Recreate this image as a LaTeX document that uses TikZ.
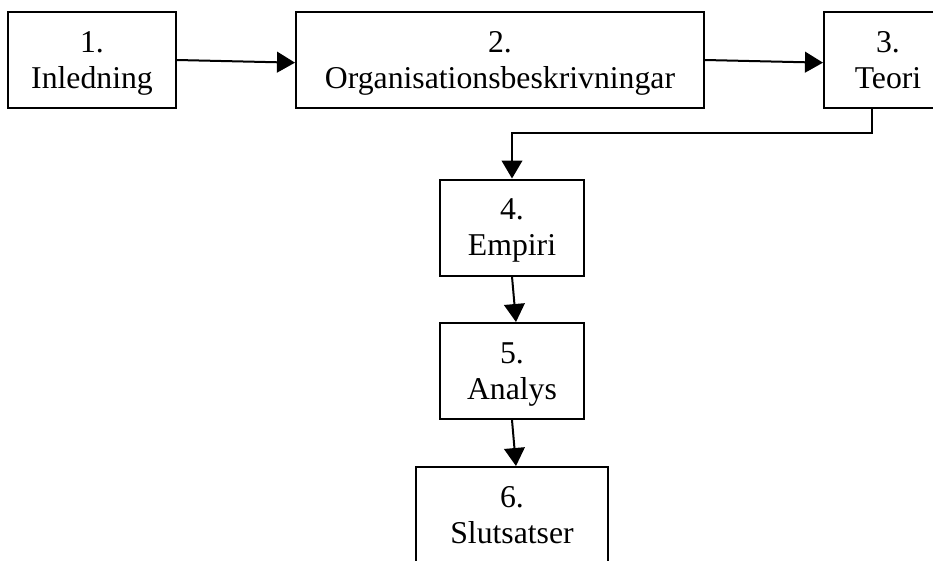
\documentclass[tikz,border=0pt]{standalone}
\usepackage{fontspec}
\setmainfont{Liberation Serif}
\usetikzlibrary{arrows.meta,positioning}
\newcommand{\ls}{\rule[-6pt]{0pt}{27pt}}
\tikzset{
  stage/.style={draw,line width=1.5pt,align=center,inner sep=0pt,
    minimum height=72pt,font=\fontsize{23.8}{27}\selectfont},
  flow/.style={-{Triangle[length=13.5pt,width=15.5pt]},line width=1.5pt}
}

\begin{document}
\begin{tikzpicture}[x=0.75pt,y=-0.75pt]
    \clip (0,0) rectangle (933,561);
    \node[stage,minimum width=126pt] (inl) at (92,60) {\ls 1.\\\ls Inledning};
    \node[stage,minimum width=306pt] (org) at (500,60) {\ls 2.\\\ls Organisationsbeskrivningar};
    \node[stage,minimum width=96pt] (teo) at (888,60) {\ls 3.\\\ls Teori};
    \node[stage,minimum width=108pt] (emp) at (512,227.5) {\ls 4.\\\ls Empiri};
    \node[stage,minimum width=108pt] (ana) at (512,371) {\ls 5.\\\ls Analys};
    \node[stage,minimum width=144pt] (slu) at (512,515) {\ls 6.\\\ls Slutsatser};
    % kedjan
    \draw[flow] (inl.east) -- ([yshift=-2pt]org.west);
    \draw[flow] (org.east) -- ([yshift=-2pt]teo.west);
    \draw[flow] ([xshift=-12pt]teo.south) -- ++(0,24) -| (emp.north);
    \draw[flow] (emp.south) -- ([xshift=3pt]ana.north);
    \draw[flow] (ana.south) -- ([xshift=3pt]slu.north);
\end{tikzpicture}
\end{document}
